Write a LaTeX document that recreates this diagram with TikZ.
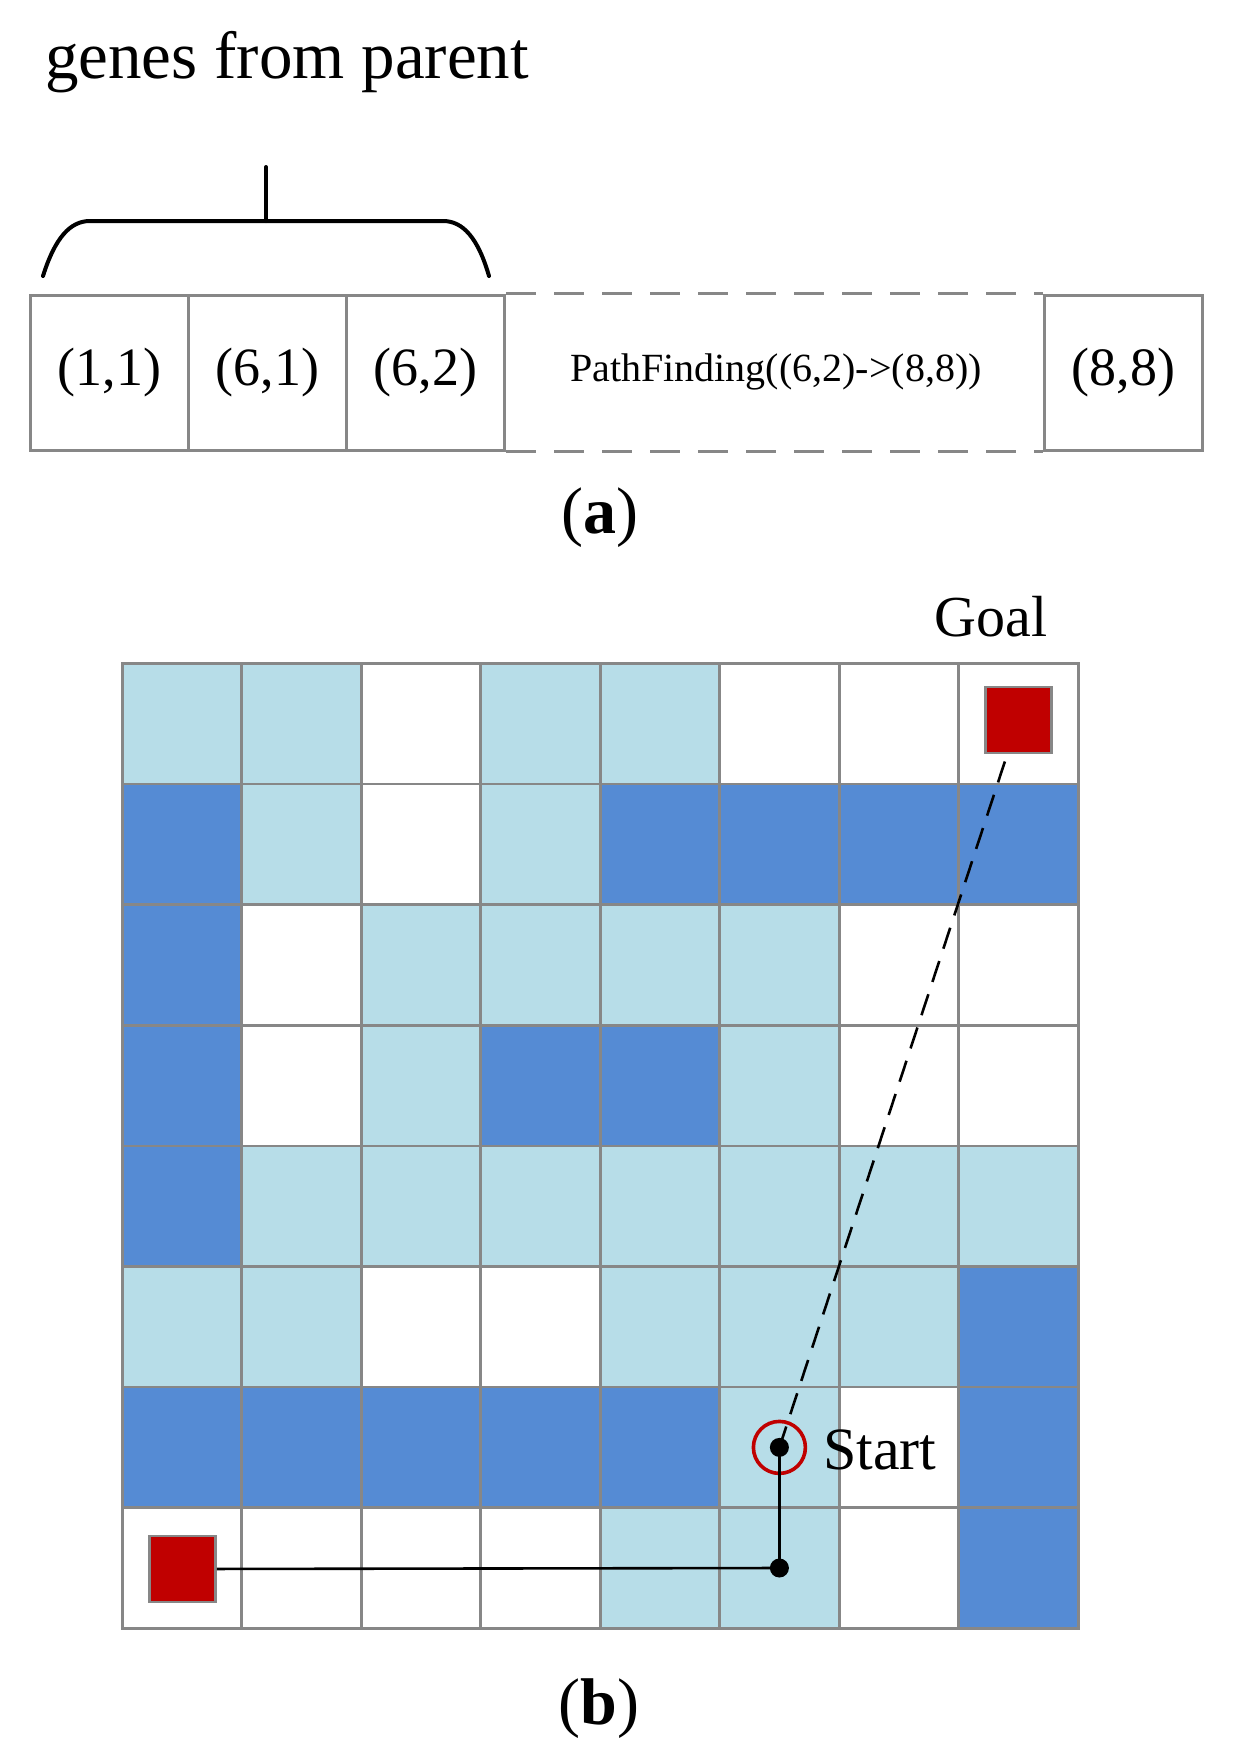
\documentclass[tikz,border=0pt]{standalone}
\usepackage{fontspec}
\setmainfont{Liberation Serif}
\definecolor{colL}{HTML}{B7DDE8}
\definecolor{colD}{HTML}{558BD4}
\definecolor{colW}{HTML}{FFFFFF}
\definecolor{gridgray}{HTML}{878787}
\definecolor{goalred}{HTML}{C00000}
\begin{document}
\begin{tikzpicture}[x=1pt,y=-1pt,
  boxline/.style={draw=gridgray,line width=3pt},
  dashline/.style={draw=gridgray,line width=3pt,dash pattern=on 30pt off 18pt},
  cellbox/.style={boxline,minimum width=158pt,minimum height=155pt,inner sep=0pt,anchor=north west},
  celltext/.style={font=\fontsize{54pt}{60pt}\selectfont},
  smalltext/.style={font=\fontsize{40pt}{48pt}\selectfont},
  bracestyle/.style={line width=4pt,line cap=round},
  gridline/.style={draw=gridgray,line width=2.7pt},
  marker/.style={rectangle,draw=gridgray,line width=2.5pt,fill=goalred,minimum size=66pt,inner sep=0pt},
  pathline/.style={line width=2.6pt},
  dotstyle/.style={circle,fill=black,minimum size=19pt,inner sep=0pt},
  caption/.style={font=\fontsize{66pt}{72pt}\selectfont}
]
\useasboundingbox (0,0) rectangle (1235,1757);
\fill[white] (0,0) rectangle (1235,1757);

% ---------- (a) ----------
\node[anchor=base west,inner sep=0pt,font=\fontsize{67pt}{80pt}\selectfont] (genes) at (45,78) {genes from parent};

\coordinate (stemtop) at (266,167);
\coordinate (stembot) at (266,221);
\draw[bracestyle] (stemtop) -- (stembot);
\draw[bracestyle] (43,276) .. controls (55,238) and (70,221) .. (90,221) -- (443,221) .. controls (463,221) and (478,238) .. (489,276);

\node[cellbox,label={[celltext]center:(1,1)}] (b1) at (29,293.5) {};
\node[cellbox,label={[celltext]center:(6,1)}] (b2) at (187,293.5) {};
\node[cellbox,label={[celltext]center:(6,2)}] (b3) at (345,293.5) {};
\node[cellbox,label={[celltext]center:(8,8)}] (b5) at (1043,293.5) {};
\node[smalltext,inner sep=0pt] (pf) at (776,372) {PathFinding((6,2)->(8,8))};
\draw[dashline] (b3.north east) -- (b5.north west);
\draw[dashline] (b3.south east) -- (b5.south west);

\node[caption,inner sep=0pt] (capa) at (600,518) {(\textbf{a})};

% ---------- (b) grid ----------
\def\gx{122.2}\def\gy{663.5}\def\cw{119.5}\def\ch{120.6}
\foreach \row [count=\r] in {{L,L,W,L,L,W,W,W},{D,L,W,L,D,D,D,D},{D,W,L,L,L,L,W,W},{D,W,L,D,D,L,W,W},{D,L,L,L,L,L,L,L},{L,L,W,W,L,L,L,D},{D,D,D,D,D,L,W,D},{W,W,W,W,L,L,W,D}}{
  \foreach \c [count=\k] in \row {
    \fill[fill=col\c] ({\gx+(\k-1)*\cw},{\gy+(\r-1)*\ch}) rectangle ({\gx+\k*\cw},{\gy+\r*\ch});
  }
}
\foreach \i in {0,...,8}{
  \draw[gridline,line cap=rect] ({\gx+\i*\cw},\gy) -- ({\gx+\i*\cw},{\gy+8*\ch});
  \draw[gridline,line cap=rect] (\gx,{\gy+\i*\ch}) -- ({\gx+8*\cw},{\gy+\i*\ch});
}

\node[marker] (goal) at (1018.5,720) {};
\node[marker] (startsq) at (182.5,1569) {};
\node[anchor=base,inner sep=0pt,font=\fontsize{58pt}{64pt}\selectfont] (goallbl) at (991,636) {Goal};

\node[circle,draw=goalred,line width=3.6pt,minimum size=52pt,inner sep=0pt] (ring) at (779.4,1447.4) {};
\node[dotstyle] (sdot) at (779.4,1447.4) {};
\node[dotstyle] (cdot) at (779.4,1568) {};
\node[anchor=base west,inner sep=0pt,font=\fontsize{60pt}{66pt}\selectfont] (startlbl) at (823,1469) {Start};

\draw[pathline,dash pattern=on 22pt off 13pt] (sdot.center) -- (goal);
\draw[pathline] (startsq) -- (cdot.center);
\draw[pathline] (cdot.center) -- (sdot.center);

\node[caption,inner sep=0pt] (capb) at (599,1709) {(\textbf{b})};
\end{tikzpicture}
\end{document}
